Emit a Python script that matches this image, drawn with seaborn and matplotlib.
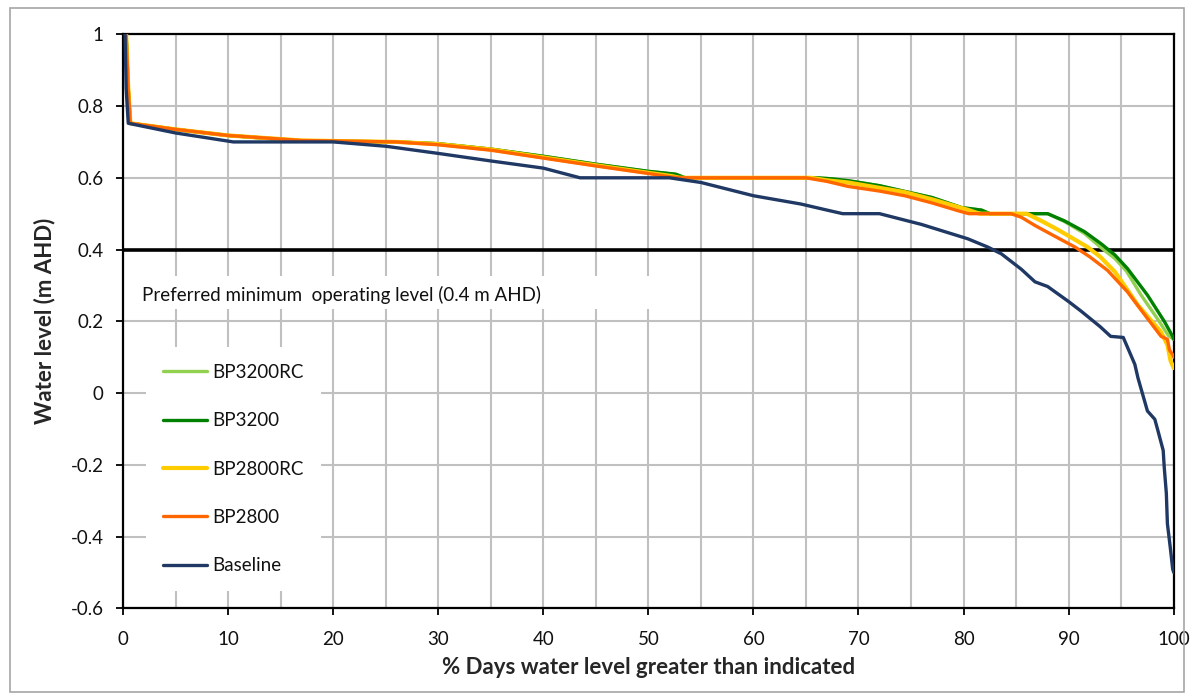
import matplotlib
matplotlib.use("Agg")
import matplotlib.pyplot as plt
from matplotlib.patches import Rectangle
from matplotlib.ticker import MultipleLocator, FuncFormatter
import seaborn as sns
import pandas as pd

# ---------------- data ----------------
series_names = ["BP3200RC", "BP3200", "BP2800RC", "BP2800", "Baseline"]

bp3200rc_x = [0.3, 0.5, 0.7, 5, 10, 17, 26, 30, 35, 40, 45, 50, 52.6, 53.5, 66, 67.5, 69, 72, 74.4, 77,
              79.8, 81.7, 82.5, 88, 89.6, 91.5, 93.1, 94.4, 95.5, 96.9, 98.5, 99.5, 100]
bp3200rc_y = [1.0, 0.85, 0.752, 0.735, 0.718, 0.703, 0.70, 0.695, 0.68, 0.66, 0.638, 0.618, 0.61, 0.60,
              0.60, 0.597, 0.592, 0.578, 0.562, 0.545, 0.517, 0.51, 0.50, 0.50, 0.478, 0.445, 0.405,
              0.375, 0.34, 0.273, 0.205, 0.16, 0.15]

bp3200_x = [0.3, 0.5, 0.7, 5, 10, 17, 26, 30, 35, 40, 45, 50, 52.6, 53.5, 66, 67.5, 69, 72, 74.4, 77,
            79.8, 81.7, 82.5, 88, 89.6, 91.5, 93.1, 94.4, 95.6, 97.5, 99.1, 99.9, 100]
bp3200_y = [1.0, 0.85, 0.752, 0.735, 0.718, 0.703, 0.70, 0.695, 0.68, 0.66, 0.638, 0.618, 0.61, 0.60,
            0.60, 0.597, 0.592, 0.578, 0.562, 0.545, 0.517, 0.51, 0.50, 0.50, 0.48, 0.45, 0.416,
            0.385, 0.347, 0.273, 0.20, 0.158, 0.15]

bp2800rc_x = [0.3, 0.5, 0.7, 5, 10, 17, 26, 30, 35, 40, 45, 50, 52.2, 53, 65.5, 67, 69, 72, 74.4, 77,
              80.5, 81.5, 86, 87.4, 89, 91.8, 93, 94.4, 96.6, 98.8, 99.4, 99.7, 100]
bp2800rc_y = [1.0, 0.85, 0.752, 0.735, 0.718, 0.704, 0.70, 0.694, 0.679, 0.657, 0.635, 0.614, 0.605,
              0.60, 0.60, 0.593, 0.587, 0.572, 0.56, 0.54, 0.51, 0.50, 0.50, 0.48, 0.455, 0.407,
              0.38, 0.338, 0.245, 0.17, 0.134, 0.09, 0.07]

bp2800_x = [0.3, 0.5, 0.7, 5, 10, 17, 26, 30, 35, 40, 45, 50, 52, 53, 65, 67, 69, 72, 74.4, 77, 79.5,
            80.5, 84.5, 85.5, 86.8, 88.5, 90.6, 92, 93.7, 95.6, 97.5, 98.8, 99.4, 99.6, 99.9, 100]
bp2800_y = [1.0, 0.85, 0.752, 0.735, 0.718, 0.704, 0.70, 0.692, 0.677, 0.655, 0.633, 0.612, 0.603,
            0.60, 0.60, 0.59, 0.576, 0.563, 0.55, 0.53, 0.508, 0.50, 0.50, 0.49, 0.467, 0.44, 0.407,
            0.38, 0.342, 0.282, 0.208, 0.158, 0.15, 0.12, 0.107, 0.10]

baseline_x = [0.2, 0.3, 0.5, 5, 10.5, 20, 25, 30, 35, 40, 43.5, 52, 55, 60, 64.5, 67, 68.5, 72, 76,
              80.4, 82.3, 83.6, 85.5, 86.8, 88, 90, 91.2, 93, 94, 95.2, 96.3, 96.6, 97.5, 98.2, 98.5,
              99.0, 99.1, 99.3, 99.4, 99.7, 99.9, 100]
baseline_y = [1.0, 0.85, 0.752, 0.725, 0.70, 0.70, 0.688, 0.668, 0.647, 0.627, 0.60, 0.60, 0.587,
              0.55, 0.527, 0.51, 0.50, 0.50, 0.47, 0.43, 0.407, 0.388, 0.345, 0.31, 0.297, 0.255,
              0.228, 0.185, 0.158, 0.155, 0.08, 0.042, -0.05, -0.073, -0.105, -0.16, -0.207, -0.28,
              -0.364, -0.437, -0.49, -0.50]

threshold_level = 0.4
threshold_text = "Preferred minimum  operating level (0.4 m AHD)"
x_label = "% Days water level greater than indicated"
y_label = "Water level (m AHD)"

# ---------------- styling ----------------
colors = {"BP3200RC": "#92D050", "BP3200": "#008000", "BP2800RC": "#FFCC00",
          "BP2800": "#FF6600", "Baseline": "#1F3864"}
widths = {"BP3200RC": 2.4, "BP3200": 2.4, "BP2800RC": 3.0, "BP2800": 2.4, "Baseline": 2.4}

sns.set_theme(style="white")
plt.rcParams["font.family"] = ["Lato", "DejaVu Sans"]
plt.rcParams["axes.unicode_minus"] = False

FS = 13.5

data = {
    "BP3200RC": (bp3200rc_x, bp3200rc_y),
    "BP3200": (bp3200_x, bp3200_y),
    "BP2800RC": (bp2800rc_x, bp2800rc_y),
    "BP2800": (bp2800_x, bp2800_y),
    "Baseline": (baseline_x, baseline_y),
}

fig = plt.figure(figsize=(11.94, 7.0), dpi=100)
ax = fig.add_axes([0.103, 0.131, 0.880, 0.820])

for name in series_names:
    xs, ys = data[name]
    df = pd.DataFrame({"x": xs, "y": ys})
    sns.lineplot(data=df, x="x", y="y", ax=ax, color=colors[name], lw=widths[name],
                 label=name, sort=False, estimator=None, zorder=3)

ax.axhline(threshold_level, color="black", lw=2.6, zorder=2.5)

ax.set_xlim(0, 100)
ax.set_ylim(-0.6, 1.0)
ax.xaxis.set_major_locator(MultipleLocator(10))
ax.xaxis.set_minor_locator(MultipleLocator(5))
ax.yaxis.set_major_locator(MultipleLocator(0.2))
ax.yaxis.set_major_formatter(FuncFormatter(lambda v, p: f"{round(v, 1):g}"))

ax.set_axisbelow(True)
ax.grid(True, which="both", axis="x", color="#C0C0C0", lw=1.5)
ax.grid(True, which="major", axis="y", color="#C0C0C0", lw=1.5)

for s in ax.spines.values():
    s.set_color("black")
    s.set_linewidth(1.6)

ax.tick_params(axis="both", which="major", direction="out", length=5, width=1.3,
               color="black", labelsize=FS, labelcolor="#111111",
               bottom=True, left=True)
ax.tick_params(axis="y", which="major", pad=9)
ax.tick_params(axis="x", which="major", pad=11)
ax.tick_params(axis="x", which="minor", length=0)

ax.set_xlabel(x_label, fontsize=16, fontweight="bold", labelpad=7)
ax.set_ylabel(y_label, fontsize=16, fontweight="bold", labelpad=11)

# white panel behind the threshold label
ax.add_patch(Rectangle((1.0, 0.233), 51.5, 0.092, facecolor="white", edgecolor="none", zorder=1.5))
ax.text(1.8, 0.273, threshold_text, fontsize=FS, va="center", ha="left", color="#111111", zorder=4)

leg = ax.legend(loc="upper left", bbox_to_anchor=(0.022, 0.455), frameon=True,
                facecolor="white", edgecolor="none", framealpha=1.0, fancybox=False,
                fontsize=FS, handlelength=2.35, handletextpad=0.3, labelspacing=1.67,
                borderpad=0.9, borderaxespad=0.0)
leg.set_zorder(5)
for t in leg.get_texts():
    t.set_color("#111111")

# chart-area border
fig.add_artist(Rectangle((0.008, 0.012), 0.984, 0.976, transform=fig.transFigure,
                         fill=False, edgecolor="#A6A6A6", lw=1.2))

fig.savefig("out.png", dpi=100)
